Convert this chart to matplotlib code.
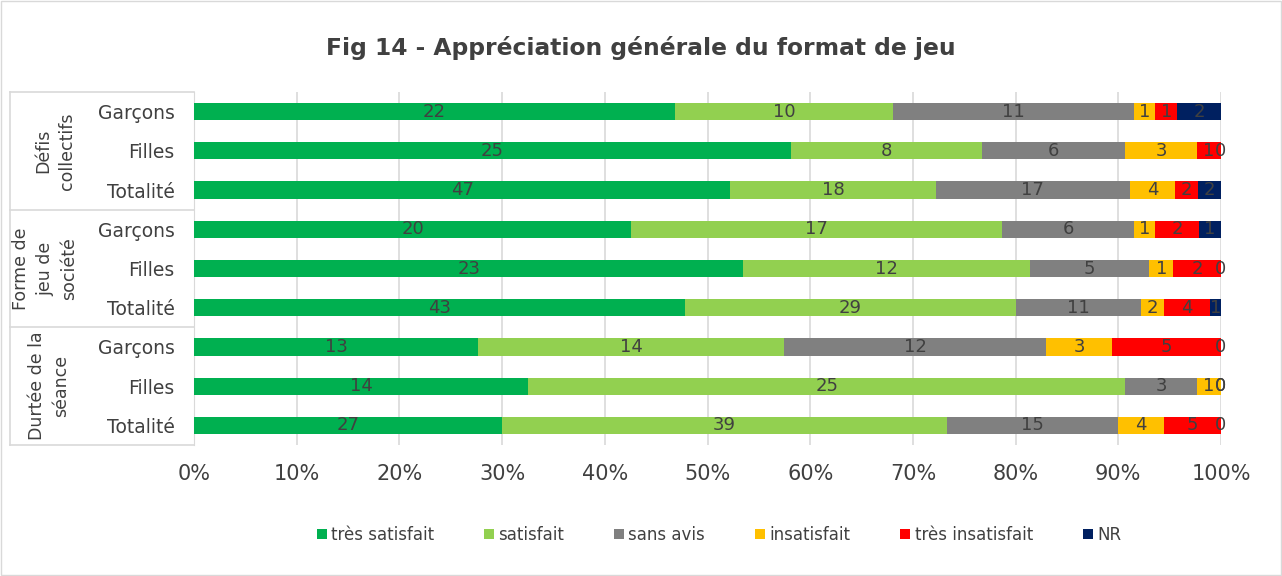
import matplotlib.pyplot as plt
import numpy as np
from matplotlib.patches import Rectangle

plt.rcParams['font.family'] = ['DejaVu Sans']

groups = ['Défis\ncollectifs', 'Forme de\njeu de\nsociété', 'Durtée de la\nséance']
rows = ['Garçons', 'Filles', 'Totalité'] * 3
series = ['très satisfait', 'satisfait', 'sans avis', 'insatisfait', 'très insatisfait', 'NR']
colors = ['#00B050', '#92D050', '#808080', '#FFC000', '#FF0000', '#002060']

tres_satisfait = [22, 25, 47, 20, 23, 43, 13, 14, 27]
satisfait = [10, 8, 18, 17, 12, 29, 14, 25, 39]
sans_avis = [11, 6, 17, 6, 5, 11, 12, 3, 15]
insatisfait = [1, 3, 4, 1, 1, 2, 3, 1, 4]
tres_insatisfait = [1, 1, 2, 2, 2, 4, 5, 0, 5]
nr = [2, 0, 2, 1, 0, 1, 0, 0, 0]

values = np.array([tres_satisfait, satisfait, sans_avis, insatisfait, tres_insatisfait, nr], dtype=float)
shares = values / values.sum(axis=0)

fig = plt.figure(figsize=(12.82, 5.76), dpi=100)
ax = fig.add_axes([194 / 1282, 1 - 445 / 576, 1027 / 1282, 353 / 576])

y = np.arange(len(rows))
left = np.zeros(len(rows))
for i, name in enumerate(series):
    ax.barh(y, shares[i], left=left, height=0.44, color=colors[i], label=name, zorder=3)
    for j in range(len(rows)):
        v = int(values[i, j])
        ax.text(left[j] + shares[i, j] / 2, y[j], str(v), ha='center', va='center',
                fontsize=13, color='#404040', zorder=4)
    left += shares[i]

ax.set_ylim(len(rows) - 0.5, -0.5)
ax.set_xlim(0, 1)
ax.set_xticks(np.arange(0, 1.01, 0.1))
ax.set_xticklabels([f'{int(round(t * 100))}%' for t in np.arange(0, 1.01, 0.1)],
                   fontsize=15, color='#404040')
ax.set_yticks(y)
ax.set_yticklabels(rows, fontsize=13.5, color='#404040')
ax.tick_params(axis='both', length=0)
ax.tick_params(axis='y', pad=14)
ax.tick_params(axis='x', pad=14)
ax.grid(axis='x', color='#D9D9D9', linewidth=1.2, zorder=0)
for s in ['top', 'right', 'bottom']:
    ax.spines[s].set_visible(False)
ax.spines['left'].set_color('#D9D9D9')

# group boxes on the left
for k in range(4):
    yy = (445 - k * 353 / 3)
    fig.add_artist(plt.Line2D([10 / 1282, 194 / 1282], [1 - yy / 576, 1 - yy / 576],
                              color='#D9D9D9', linewidth=1.2))
fig.add_artist(plt.Line2D([10 / 1282, 10 / 1282], [1 - 92 / 576, 1 - 445 / 576],
                          color='#D9D9D9', linewidth=1.2))
group_x = [55, 45, 49]
for k, g in enumerate(groups):
    yc = 92 + (k + 0.5) * 353 / 3
    fig.text(group_x[k] / 1282, 1 - yc / 576, g, rotation=90, ha='center', va='center',
             multialignment='center', fontsize=12.5, color='#404040', linespacing=1.4)

fig.text(0.5, 1 - 48 / 576, 'Fig 14 - Appréciation générale du format de jeu',
         ha='center', va='center', fontsize=16.8, fontweight='bold', color='#404040')

fig.legend(loc='center', bbox_to_anchor=(719 / 1282, 1 - 535 / 576), ncol=6, frameon=False,
           fontsize=12, handlelength=0.6, handleheight=0.6, handletextpad=0.25,
           columnspacing=3.0, labelcolor='#404040')

fig.add_artist(Rectangle((0.001, 0.001), 0.998, 0.998, transform=fig.transFigure,
                         fill=False, edgecolor='#D9D9D9', linewidth=1))

fig.savefig('out.png', dpi=100)
